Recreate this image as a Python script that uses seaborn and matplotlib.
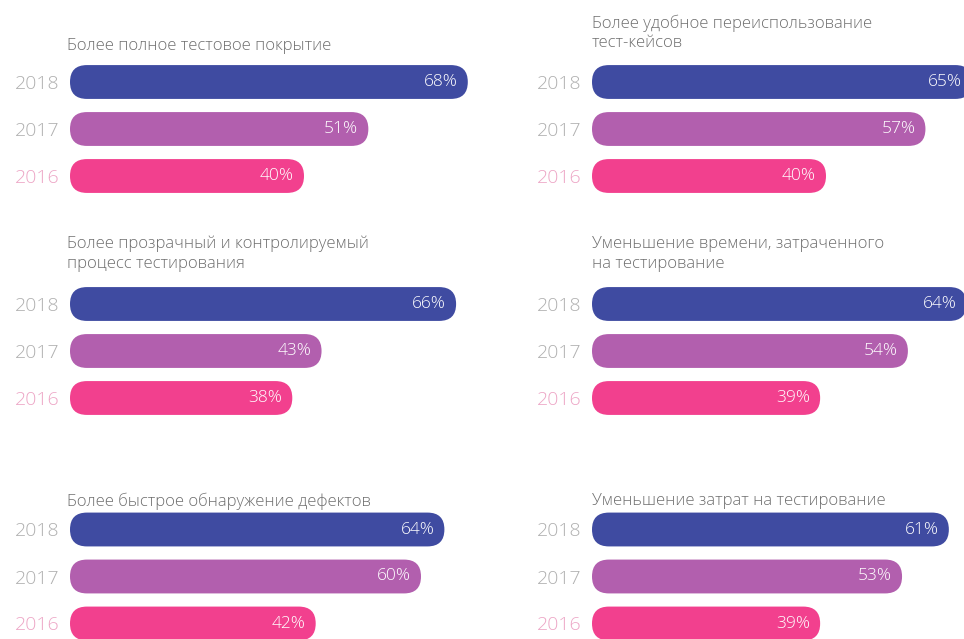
import numpy as np
import pandas as pd
import matplotlib
matplotlib.use("Agg")
import matplotlib.pyplot as plt
from matplotlib.patches import FancyBboxPatch
import seaborn as sns

# ---------------- data ----------------
titles = [
    "Более полное тестовое покрытие",
    "Более удобное переиспользование\nтест-кейсов",
    "Более прозрачный и контролируемый\nпроцесс тестирования",
    "Уменьшение времени, затраченного\nна тестирование",
    "Более быстрое обнаружение дефектов",
    "Уменьшение затрат на тестирование",
]
years = ["2018", "2017", "2016"]
values_2018 = [68, 65, 66, 64, 64, 61]
values_2017 = [51, 57, 43, 54, 60, 53]
values_2016 = [40, 40, 38, 39, 42, 39]

bar_colors = {"2018": "#3f4ba1", "2017": "#b25fae", "2016": "#f2408e"}
year_label_colors = {"2018": "#b0b0b0", "2017": "#b0b0b0", "2016": "#eda6c6"}

# ---------------- style ----------------
sns.set_theme(style="white")
plt.rcParams["font.family"] = ["Open Sans", "DejaVu Sans"]

W, H = 964, 639
fig = plt.figure(figsize=(W / 100, H / 100), dpi=100)
fig.patch.set_facecolor("white")

PX_PER_UNIT = 5.85
ROW_PX = 47
BAR_W = 0.72
col_left = [70, 592]
col_xmax = [70, 63]
row_top = [58.5, 280.5, 506]
title_x = [67, 592]
title_center = [46, 33, 254, 254, 501, 501]

for i, title in enumerate(titles):
    r, c = divmod(i, 2)
    left = col_left[c]
    xmax = col_xmax[c]
    width_px = xmax * PX_PER_UNIT
    height_px = 3 * ROW_PX
    top = row_top[r]
    ax = fig.add_axes([left / W, 1 - (top + height_px) / H, width_px / W, height_px / H])
    ax.patch.set_alpha(0)

    df = pd.DataFrame({
        "year": years,
        "value": [values_2018[i], values_2017[i], values_2016[i]],
    })
    sns.barplot(data=df, x="value", y="year", hue="year", order=years,
                hue_order=years, palette=bar_colors, width=BAR_W,
                legend=False, dodge=False, saturation=1, ax=ax)
    ax.set_xlim(0, xmax)
    ax.set_ylim(2.5, -0.5)

    # replace rectangles with pill shapes
    ma = PX_PER_UNIT / ROW_PX
    for p in list(ax.patches):
        x0, y0 = p.get_x(), p.get_y()
        w, h = p.get_width(), p.get_height()
        fc = p.get_facecolor()
        p.remove()
        rad = abs(h) / ma / 2 * 0.999
        fp = FancyBboxPatch((x0, min(y0, y0 + h)), w, abs(h),
                            boxstyle=f"round,pad=0,rounding_size={rad}",
                            mutation_aspect=ma, fc=fc, ec="none", clip_on=False)
        ax.add_patch(fp)

    for j, v in enumerate(df["value"]):
        ax.text(v - 10 / PX_PER_UNIT, j, f"{v}%", ha="right", va="center",
                color="white", fontsize=12.5, fontweight="light", clip_on=False)

    for s in ax.spines.values():
        s.set_visible(False)
    ax.set_xticks([])
    ax.set_xlabel("")
    ax.set_ylabel("")
    ax.tick_params(axis="y", length=0, pad=7.5, labelsize=14)
    for lab in ax.get_yticklabels():
        lab.set_color(year_label_colors[lab.get_text()])
        lab.set_fontweight("light")

    fig.text(title_x[c] / W, 1 - title_center[i] / H, title, ha="left",
             va="center", fontsize=12, color="#6e6e6e", linespacing=1.3,
             fontweight="light")

fig.savefig("out.png", dpi=100, facecolor="white")
